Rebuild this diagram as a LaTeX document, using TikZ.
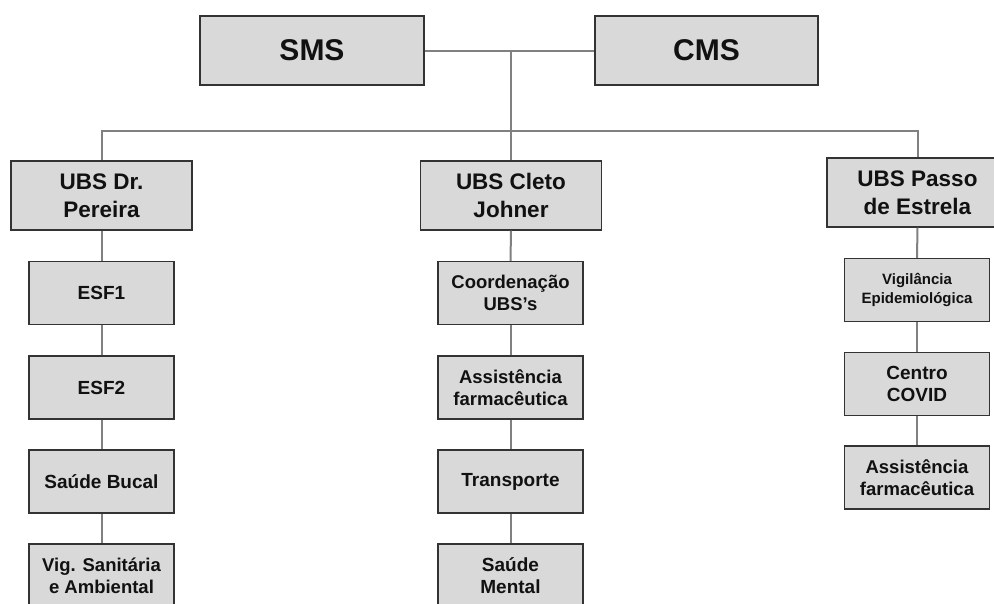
\documentclass[tikz,border=0pt]{standalone}
\usepackage{fontspec}
\setmainfont{Liberation Sans}
\definecolor{boxfill}{HTML}{D9D9D9}
\definecolor{boxline}{HTML}{333333}
\definecolor{connline}{HTML}{808080}
\definecolor{txt}{HTML}{111111}
\begin{document}
\begin{tikzpicture}[x=1pt,y=-1pt,
  orgbox/.style={draw=boxline,fill=boxfill,line width=1.4pt,inner sep=0pt,
    align=center,text=txt,font=\bfseries},
  topbox/.style={orgbox,minimum width=224pt,minimum height=69pt,
    font=\fontsize{30}{34}\selectfont\bfseries},
  ubsbox/.style={orgbox,minimum width=181pt,minimum height=69pt,
    font=\fontsize{22.5}{28}\selectfont\bfseries},
  subbox/.style={orgbox,minimum width=145pt,minimum height=63pt,
    font=\fontsize{19}{22.5}\selectfont\bfseries},
  smallbox/.style={subbox,font=\fontsize{15}{19}\selectfont\bfseries},
  midbox/.style={subbox,font=\fontsize{18.5}{22}\selectfont\bfseries},
  conn/.style={draw=connline,line width=2pt}]
\useasboundingbox (0,0) rectangle (994,603);
\clip (0,0) rectangle (994,603);
\fill[white] (0,0) rectangle (994,603);

% top
\node[topbox] (sms) at (312,50.5) {SMS};
\node[topbox,minimum width=223pt] (cms) at (706.5,50.5) {CMS};
\coordinate (j) at (511,50.5);
\coordinate (bar) at (511,131);

% UBS level
\node[ubsbox] (drp) at (101.5,195.5) {UBS Dr.\\Pereira};
\node[ubsbox] (cleto) at (511,195.5) {UBS Cleto\\Johner};
\node[ubsbox] (passo) at (917.5,192.5) {UBS Passo\\de Estrela};

% left column
\node[subbox] (esf1) at (101.5,293) {ESF1};
\node[subbox] (esf2) at (101.5,387.5) {ESF2};
\node[subbox] (bucal) at (101.5,481.5) {Saúde Bucal};
\node[midbox] (vig) at (101.5,575.5) {Vig. Sanitária\\e Ambiental};

% centre column
\node[midbox] (coord) at (510.5,293) {Coordenação\\UBS's};
\node[midbox] (assist1) at (510.5,387.5) {Assistência\\farmacêutica};
\node[subbox] (transp) at (510.5,481.5) {Transporte};
\node[subbox] (mental) at (510.5,575.5) {Saúde\\Mental};

% right column
\node[smallbox] (vigep) at (917,290) {Vigilância\\Epidemiológica};
\node[subbox] (covid) at (917,384) {Centro\\COVID};
\node[midbox] (assist2) at (917,477.5) {Assistência\\farmacêutica};

% connectors
\draw[conn] (sms.east) -- (cms.west);
\draw[conn] (j) -- (cleto.north);
\draw[conn] (drp.north) |- (bar) -| (passo.north);
\draw[conn] (drp.south) -- (esf1.north);
\draw[conn] (esf1.south) -- (esf2.north);
\draw[conn] (esf2.south) -- (bucal.north);
\draw[conn] (bucal.south) -- (vig.north);
\draw[conn] (cleto.south) -- (coord.north);
\draw[conn] (coord.south) -- (assist1.north);
\draw[conn] (assist1.south) -- (transp.north);
\draw[conn] (transp.south) -- (mental.north);
\draw[conn] (passo.south) -- (vigep.north);
\draw[conn] (vigep.south) -- (covid.north);
\draw[conn] (covid.south) -- (assist2.north);
\end{tikzpicture}
\end{document}
